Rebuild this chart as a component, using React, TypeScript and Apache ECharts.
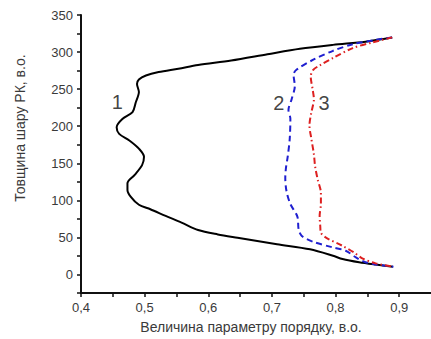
import React, { useEffect, useRef } from "react";
import * as echarts from "echarts";

const curve1: [number, number][] = [
  [0.889, 319.6], [0.847, 314], [0.796, 309.7], [0.744, 304.4], [0.693, 297],
  [0.636, 288.5], [0.584, 282.5], [0.553, 277.5], [0.522, 273], [0.502, 268.4],
  [0.491, 263], [0.488, 257], [0.491, 246], [0.486, 232], [0.481, 219],
  [0.465, 209.7], [0.456, 198.7], [0.460, 189.7], [0.476, 180.8],
  [0.491, 169.7], [0.499, 158.7], [0.496, 147.5], [0.484, 134],
  [0.473, 123], [0.473, 114], [0.478, 105], [0.491, 94], [0.509, 88],
  [0.533, 79], [0.558, 70], [0.584, 60], [0.615, 54], [0.646, 49.5],
  [0.708, 40.8], [0.760, 34], [0.796, 25.3], [0.811, 20.8], [0.837, 16.4],
  [0.863, 13.3], [0.890, 10.5],
];

const curve2: [number, number][] = [
  [0.889, 319.8], [0.863, 316.4], [0.827, 310.6], [0.796, 301.7], [0.765, 289.7],
  [0.739, 276.4], [0.734, 269.7], [0.736, 254], [0.731, 236.4], [0.726, 222],
  [0.729, 210], [0.728, 183], [0.725, 160], [0.722, 143], [0.721, 130],
  [0.723, 112], [0.729, 95], [0.740, 78], [0.742, 61], [0.747, 52],
  [0.765, 44], [0.796, 36.4], [0.816, 32], [0.832, 23], [0.847, 16.4],
  [0.863, 13.5], [0.891, 10.5],
];

const curve3: [number, number][] = [
  [0.889, 319.8], [0.858, 313], [0.827, 305.4], [0.796, 292], [0.775, 282],
  [0.765, 276], [0.761, 267], [0.764, 249.7], [0.766, 236.4], [0.762, 218.7],
  [0.759, 201], [0.762, 183], [0.766, 162], [0.768, 145], [0.772, 128],
  [0.777, 110], [0.777, 95], [0.775, 79], [0.776, 65], [0.777, 56.4],
  [0.785, 49.7], [0.811, 38.6], [0.829, 29.7], [0.842, 21.7], [0.863, 15],
  [0.891, 10.5],
];

const curveLabels = [
  { name: "1", value: [0.457, 232] },
  { name: "2", value: [0.711, 231] },
  { name: "3", value: [0.782, 231] },
];

const xAxisTitle = "Величина параметру порядку, в.о.";
const yAxisTitle = "Товщина шару РК, в.о.";

export default function App() {
  const ref = useRef<HTMLDivElement>(null);
  useEffect(() => {
    if (!ref.current) return;
    const chart = echarts.init(ref.current, undefined, { renderer: "svg" });
    const font = "Liberation Sans, Arial, sans-serif";
    chart.setOption({
      animation: false,
      backgroundColor: "#fff",
      grid: { left: 81, right: -5, top: 15, bottom: 43, containLabel: false },
      xAxis: {
        type: "value",
        min: 0.4,
        max: 0.95,
        interval: 0.05,
        splitLine: { show: false },
        axisLine: { show: true, onZero: false, lineStyle: { color: "#111", width: 2 } },
        axisTick: { show: true, inside: false, length: 4, lineStyle: { color: "#111", width: 1.5 } },
        axisLabel: {
          margin: 8,
          color: "#3a3a3a",
          fontSize: 13,
          fontFamily: font,
          showMaxLabel: false,
          formatter: (v: number) => {
            const t = v * 10;
            if (Math.abs(t - Math.round(t)) < 1e-6) return (Math.round(t) / 10).toFixed(1).replace(".", ",");
            return "";
          },
        },
        name: xAxisTitle,
        nameLocation: "middle",
        nameGap: 27,
        nameTextStyle: { color: "#3a3a3a", fontSize: 14, fontFamily: font, padding: [0, 10, 0, 0] },
      },
      yAxis: {
        type: "value",
        min: -25,
        max: 350,
        interval: 25,
        splitLine: { show: false },
        axisLine: { show: true, onZero: false, lineStyle: { color: "#111", width: 2 } },
        axisTick: { show: true, inside: false, length: 4, lineStyle: { color: "#111", width: 1.5 } },
        axisLabel: {
          margin: 8,
          color: "#3a3a3a",
          fontSize: 13,
          fontFamily: font,
          formatter: (v: number) => (Math.round(v) % 50 === 0 ? String(Math.round(v)) : ""),
        },
      },
      graphic: [
        {
          type: "text",
          x: 20,
          y: 128,
          rotation: Math.PI / 2,
          style: {
            text: yAxisTitle,
            fill: "#3a3a3a",
            font: `14px ${font}`,
            align: "center",
            verticalAlign: "middle",
          },
        },
      ],
      series: [
        {
          type: "line",
          data: curve1,
          smooth: 0.3,
          showSymbol: false,
          lineStyle: { color: "#000", width: 2 },
        },
        {
          type: "line",
          data: curve2,
          smooth: 0.3,
          showSymbol: false,
          lineStyle: { color: "#1f1fd0", width: 2, type: [6, 4] },
        },
        {
          type: "line",
          data: curve3,
          smooth: 0.3,
          showSymbol: false,
          lineStyle: { color: "#dd2020", width: 2, type: [6, 3, 1.5, 3] },
        },
        {
          type: "scatter",
          data: curveLabels,
          symbolSize: 0,
          label: {
            show: true,
            position: "inside",
            formatter: (p: any) => p.name,
            color: "#111",
            fontSize: 20,
            fontFamily: font,
          },
        },
      ],
    });
    return () => chart.dispose();
  }, []);
  return (
    <div
      ref={ref}
      style={{ position: "fixed", left: 0, top: 0, width: 431, height: 339, background: "#fff" }}
    />
  );
}
